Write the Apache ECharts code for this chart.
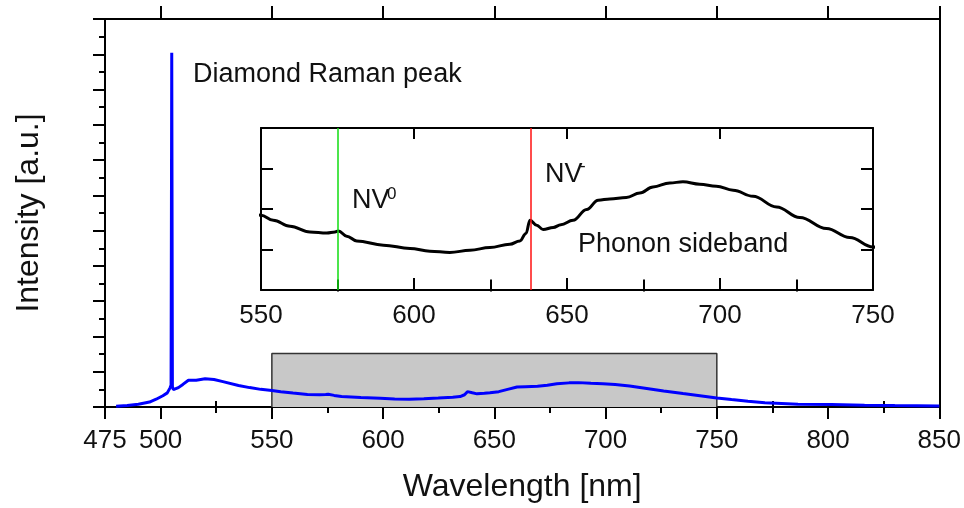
<!DOCTYPE html>
<html><head><meta charset="utf-8">
<script src="https://cdn.jsdelivr.net/npm/echarts@6/dist/echarts.min.js"></script>
<style>html,body{margin:0;padding:0;background:#fff}#c{width:964px;height:508px}</style>
</head><body><div id="c"></div>
<script>
const wavelength = [480,485,490,495,498,501,503,504.3,504.7,505.0,505.3,505.7,508,510,512.5,516,520,524,528,535,540,545,550,554,559.5,566,571.5,574.2,575.3,578,581.3,590,598.7,605.2,611.7,618.3,624.8,631.3,634.6,636.6,637.9,640.1,642.2,645.5,648,652,656.4,660.2,664,669.4,673.8,678.1,683.6,687.9,693.4,698.8,704.3,710.8,718.5,726.1,734.8,742.4,750,756.6,764,771.6,786.5,801.5,816.4,830,850];
const intensity = [0.02,0.04,0.08,0.14,0.22,0.32,0.40,0.55,0.62,10.04,0.58,0.49,0.55,0.64,0.76,0.76,0.80,0.78,0.72,0.61,0.55,0.50,0.469,0.435,0.395,0.357,0.35,0.357,0.364,0.329,0.297,0.269,0.247,0.229,0.22,0.235,0.253,0.275,0.297,0.347,0.435,0.402,0.373,0.387,0.405,0.435,0.507,0.569,0.577,0.587,0.617,0.657,0.684,0.691,0.675,0.662,0.635,0.595,0.524,0.453,0.38,0.32,0.257,0.21,0.16,0.12,0.08,0.07,0.05,0.04,0.03];
const xMajorBottom = [475,500,550,600,650,700,750,800,850];
const xMinorBottom = [525,575,625,675,725,775,825];
const xMajorTop = [500,550,600,650,700,750,800,850];
const xMinorTop = [475,525,575,625,675,725,775,825];
const insetMajor = [550,600,650,700,750];
const insetMinor = [575,625,675,725];
const insetYTicks = [0.24,0.51,0.78];
const boxX = [550,550,750,750];
const boxY = [0,1.52,1.52,0];
const nvLines = [575.0, 638.1];

const FONT = 'Liberation Sans, Arial, sans-serif';
const TXT = '#111';
const spectrum = wavelength.map((w,i)=>[w,intensity[i]]);
const box = boxX.map((x,i)=>[x,boxY[i]]);

function xAx(o){
  return Object.assign({type:'value',splitLine:{show:false},axisLabel:{show:false},
    axisLine:{show:false},axisTick:{show:false}}, o);
}
const line2 = {show:true,onZero:false,lineStyle:{color:'#000',width:2}};
const chart = echarts.init(document.getElementById('c'));
chart.setOption({
  animation:false,
  grid:[{left:105,right:22,top:19,bottom:101},{left:261,right:91,top:128,bottom:218}],
  xAxis:[
    xAx({gridIndex:0,position:'bottom',min:475,max:850,axisLine:line2,
      axisTick:{show:true,customValues:xMajorBottom,length:12,lineStyle:{color:'#000',width:2}},
      axisLabel:{show:true,customValues:xMajorBottom,fontSize:26,color:TXT,fontFamily:FONT,margin:21},
      name:'Wavelength [nm]',nameLocation:'middle',nameGap:64,
      nameTextStyle:{fontSize:32,color:TXT,fontFamily:FONT}}),
    xAx({gridIndex:0,position:'bottom',min:475,max:850,
      axisTick:{show:true,customValues:xMinorBottom,length:6,lineStyle:{color:'#000',width:2}}}),
    xAx({gridIndex:0,position:'top',min:475,max:850,axisLine:line2,
      axisTick:{show:true,customValues:xMajorTop,length:13,lineStyle:{color:'#000',width:2}}}),
    xAx({gridIndex:0,position:'top',min:475,max:850,
      axisTick:{show:true,customValues:xMinorTop,length:6,lineStyle:{color:'#000',width:2}}}),
    xAx({gridIndex:1,position:'bottom',min:550,max:750,axisLine:line2,
      axisTick:{show:true,inside:true,customValues:insetMajor,length:12,lineStyle:{color:'#000',width:2}},
      axisLabel:{show:true,customValues:insetMajor,fontSize:26,color:TXT,fontFamily:FONT,margin:13}}),
    xAx({gridIndex:1,position:'bottom',min:550,max:750,
      axisTick:{show:true,inside:true,customValues:insetMinor,length:6,lineStyle:{color:'#000',width:2}}}),
    xAx({gridIndex:1,position:'top',min:550,max:750,axisLine:line2,
      axisTick:{show:true,inside:true,customValues:insetMajor,length:11,lineStyle:{color:'#000',width:2}}}),
    xAx({gridIndex:1,position:'top',min:550,max:750,
      axisTick:{show:true,inside:true,customValues:insetMinor,length:6,lineStyle:{color:'#000',width:2}}})
  ],
  yAxis:[
    {type:'value',gridIndex:0,position:'left',min:0,max:11,interval:1,splitLine:{show:false},
      axisLine:line2,axisLabel:{show:false},
      axisTick:{show:true,length:12,lineStyle:{color:'#000',width:2}},
      minorTick:{show:true,splitNumber:2,length:6,lineStyle:{color:'#000',width:2}},
      name:'Intensity [a.u.]',nameLocation:'middle',nameGap:60,nameRotate:90,
      nameTextStyle:{fontSize:32,color:TXT,fontFamily:FONT}},
    {type:'value',gridIndex:0,position:'right',min:0,max:11,splitLine:{show:false},
      axisLine:line2,axisLabel:{show:false},axisTick:{show:false}},
    {type:'value',gridIndex:1,position:'left',min:-0.03,max:1.05,splitLine:{show:false},
      axisLine:line2,axisLabel:{show:false},
      axisTick:{show:true,inside:true,customValues:insetYTicks,length:12,lineStyle:{color:'#000',width:2}}},
    {type:'value',gridIndex:1,position:'right',min:-0.03,max:1.05,splitLine:{show:false},
      axisLine:line2,axisLabel:{show:false},
      axisTick:{show:true,inside:true,customValues:insetYTicks,length:12,lineStyle:{color:'#000',width:2}}}
  ],
  series:[
    {type:'line',xAxisIndex:0,yAxisIndex:0,data:box,symbol:'none',z:1,silent:true,
      lineStyle:{color:'#333',width:1.5},areaStyle:{color:'#c8c8c8',opacity:1}},
    {type:'line',xAxisIndex:0,yAxisIndex:0,data:spectrum,symbol:'none',z:3,
      lineStyle:{color:'#0000ff',width:3}},
    {type:'line',xAxisIndex:4,yAxisIndex:2,data:spectrum,symbol:'none',z:3,clip:true,
      smooth:0.4,smoothMonotone:'x',
      lineStyle:{color:'#000',width:3},
      markLine:{silent:true,symbol:['none','none'],label:{show:false},animation:false,
        data:[{xAxis:nvLines[0],lineStyle:{color:'#11dd11',width:1.5,type:'solid'}},
              {xAxis:nvLines[1],lineStyle:{color:'#ff1010',width:1.5,type:'solid'}}]}}
  ],
  graphic:[
    {type:'text',left:193,top:61,style:{text:'Diamond Raman peak',fontSize:27,fill:TXT,fontFamily:FONT}},
    {type:'text',left:352,top:187,style:{text:'NV',fontSize:27,fill:TXT,fontFamily:FONT}},
    {type:'text',left:387,top:186,style:{text:'0',fontSize:17,fill:TXT,fontFamily:FONT}},
    {type:'text',left:545,top:161,style:{text:'NV',fontSize:27,fill:TXT,fontFamily:FONT}},
    {type:'text',left:580,top:158,style:{text:'-',fontSize:17,fill:TXT,fontFamily:FONT}},
    {type:'text',left:578,top:231,style:{text:'Phonon sideband',fontSize:27,fill:TXT,fontFamily:FONT}}
  ]
});
</script></body></html>
